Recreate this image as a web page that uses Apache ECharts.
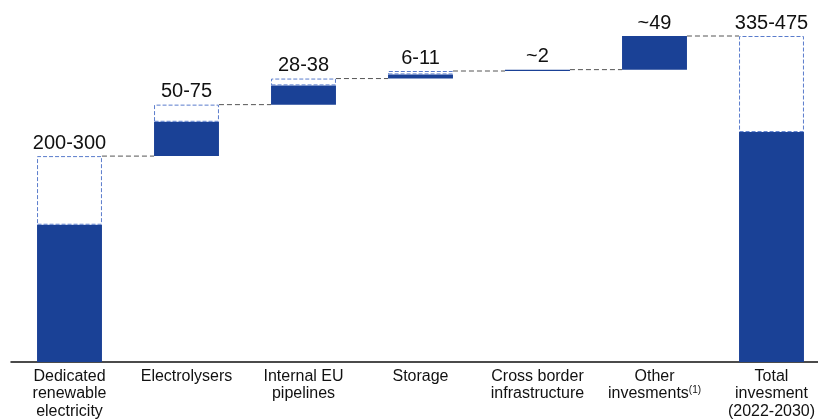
<!DOCTYPE html>
<html>
<head>
<meta charset="utf-8">
<script src="https://cdn.jsdelivr.net/npm/echarts@6/dist/echarts.min.js"></script>
<style>html,body{margin:0;padding:0;background:#fff;}#c{width:818px;height:419px;}</style>
</head>
<body>
<div id="c"></div>
<script>
var categories = ['Dedicated\nrenewable\nelectricity', 'Electrolysers', 'Internal EU\npipelines', 'Storage', 'Cross border\ninfrastructure', 'Other\ninvesments{sup|(1)}', 'Total\ninvesment\n(2022-2030)'];
var lowValues = [200, 50, 28, 6, 2, 49, 335];
var highValues = [300, 75, 38, 11, 2, 49, 475];
var valueLabels = ['200-300', '50-75', '28-38', '6-11', '~2', '~49', '335-475'];
var isTotal = [false, false, false, false, false, false, true];

var DARK = '#1a4196';
var OUTLINE = '#5a7ccc';

var baseData = [], lowData = [], rangeData = [], connData = [];
var cum = 0;
for (var i = 0; i < categories.length; i++) {
  var base = isTotal[i] ? 0 : cum;
  baseData.push(base);
  lowData.push(lowValues[i]);
  var r = highValues[i] - lowValues[i];
  rangeData.push({value: r, itemStyle: r > 0 ? {} : {borderWidth: 0, color: 'rgba(0,0,0,0)'}});
  if (!isTotal[i]) cum += highValues[i];
  if (i < categories.length - 1) connData.push([i, isTotal[i] ? highValues[i] : cum]);
}

var BW = 0.555;
var chart = echarts.init(document.getElementById('c'));
chart.setOption({
  animation: false,
  grid: {left: 11, width: 819, top: 36, height: 326, containLabel: false, outerBoundsMode: 'none'},
  xAxis: {
    type: 'category', data: categories,
    axisTick: {show: false},
    axisLine: {lineStyle: {color: '#111', width: 1.5}},
    axisLabel: {
      interval: 0, margin: 6, color: '#111', fontSize: 16, lineHeight: 17.3,
      fontFamily: 'Liberation Sans, Arial, sans-serif',
      rich: {
        sup: {fontSize: 10, lineHeight: 12, verticalAlign: 'top', color: '#111', fontFamily: 'Liberation Sans, Arial, sans-serif'}
      }
    }
  },
  yAxis: {type: 'value', min: 0, max: 475, show: false, splitLine: {show: false}},
  series: [
    {type: 'bar', stack: 's', data: baseData, barWidth: (BW * 100) + '%', itemStyle: {color: 'rgba(0,0,0,0)'}, silent: true},
    {type: 'bar', stack: 's', data: lowData, itemStyle: {color: DARK}},
    {type: 'bar', stack: 's', data: rangeData,
      itemStyle: {color: '#fff', borderColor: OUTLINE, borderWidth: 1, borderType: 'dashed'},
      label: {show: true, position: 'top', distance: 3, color: '#111', fontSize: 20,
        fontFamily: 'Liberation Sans, Arial, sans-serif',
        formatter: function (p) { return valueLabels[p.dataIndex]; }}
    },
    {type: 'custom', data: connData, silent: true, z: 1,
      renderItem: function (params, api) {
        var p = api.coord([api.value(0), api.value(1)]);
        var w = api.size([1, 0])[0];
        var x1 = p[0] + w * BW / 2, x2 = p[0] + w - w * BW / 2;
        return {type: 'line', shape: {x1: x1, y1: p[1], x2: x2, y2: p[1]},
          style: {stroke: '#555', lineWidth: 1, lineDash: [5, 3]}};
      }
    }
  ]
});
</script>
</body>
</html>
